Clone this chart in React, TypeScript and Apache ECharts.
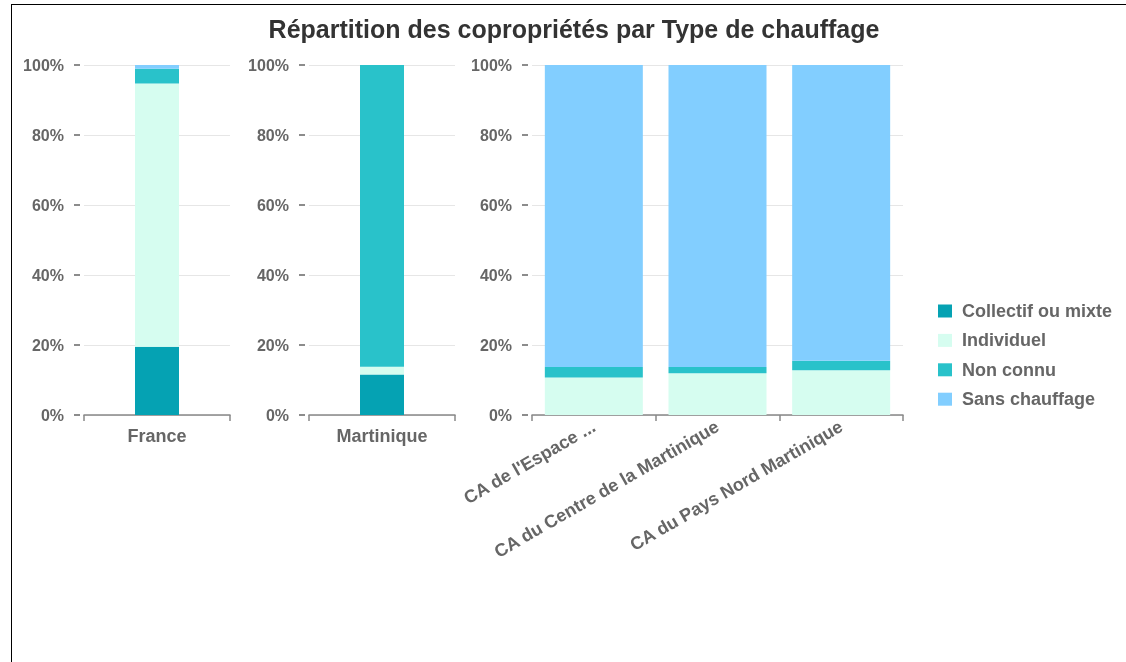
import React, { useEffect, useRef } from "react";
import * as echarts from "echarts";

const titleText = "Répartition des copropriétés par Type de chauffage";
const seriesNames = ["Collectif ou mixte", "Individuel", "Non connu", "Sans chauffage"];
const seriesColors = ["#05A2B3", "#D6FDF0", "#29C2CA", "#82CEFF"];

const categoriesFrance = ["France"];
const categoriesMartinique = ["Martinique"];
const categoriesEpci = ["CA de l'Espace ...", "CA du Centre de la Martinique", "CA du Pays Nord Martinique"];

// values in % for each series (order of seriesNames)
const franceValues = [19.5, 75.2, 4.2, 1.1];
const martiniqueValues = [11.6, 2.2, 86.2, 0];
const collectifEpci = [0, 0, 0];
const individuelEpci = [10.7, 11.9, 12.8];
const nonConnuEpci = [3.0, 1.8, 2.7];
const sansChauffageEpci = [86.3, 86.3, 84.5];

const yTicks = [0, 20, 40, 60, 80, 100];

const FONT = "'Liberation Sans', Arial, sans-serif";
const LABEL_COLOR = "#666666";

export default function App() {
  const ref = useRef<HTMLDivElement>(null);

  useEffect(() => {
    if (!ref.current) return;
    const chart = echarts.init(ref.current, null, { renderer: "svg" });

    const grids = [
      { left: 84, top: 65, width: 146, height: 350 },
      { left: 309, top: 65, width: 146, height: 350 },
      { left: 532, top: 65, width: 371, height: 350 },
    ];
    const cats = [categoriesFrance, categoriesMartinique, categoriesEpci];

    const xAxes = cats.map((c, i) => ({
      type: "category",
      gridIndex: i,
      data: c,
      axisLine: { lineStyle: { color: "#888888", width: 1.5 } },
      axisTick: { show: true, length: 6, lineStyle: { color: "#888888", width: 1.5 } },
      axisLabel: {
        interval: 0,
        color: LABEL_COLOR,
        fontFamily: FONT,
        fontWeight: "bold",
        fontSize: 18,
        rotate: i === 2 ? 30 : 0,
        margin: i === 2 ? 10 : 12,
      },
    }));

    const yAxes = cats.map((_, i) => ({
      type: "value",
      gridIndex: i,
      min: yTicks[0],
      max: yTicks[yTicks.length - 1],
      interval: yTicks[1] - yTicks[0],
      offset: 4,
      axisLine: { show: false },
      axisTick: { show: true, length: 6, lineStyle: { color: "#666666", width: 1.5 } },
      axisLabel: {
        formatter: "{value}%",
        color: LABEL_COLOR,
        fontFamily: FONT,
        fontWeight: "bold",
        fontSize: 16,
        margin: 16,
      },
      splitLine: { show: true, lineStyle: { color: "#E6E6E6", width: 1 } },
    }));

    const series: any[] = [];
    seriesNames.forEach((name, s) => {
      series.push({
        name,
        type: "bar",
        stack: "g0",
        xAxisIndex: 0,
        yAxisIndex: 0,
        barWidth: 44,
        data: [franceValues[s]],
        itemStyle: { color: seriesColors[s] },
      });
      series.push({
        name,
        type: "bar",
        stack: "g1",
        xAxisIndex: 1,
        yAxisIndex: 1,
        barWidth: 44,
        data: [martiniqueValues[s]],
        itemStyle: { color: seriesColors[s] },
      });
    });
    const epci = [collectifEpci, individuelEpci, nonConnuEpci, sansChauffageEpci];
    seriesNames.forEach((name, s) => {
      series.push({
        name,
        type: "bar",
        stack: "g2",
        xAxisIndex: 2,
        yAxisIndex: 2,
        barWidth: 98,
        data: epci[s],
        itemStyle: { color: seriesColors[s] },
      });
    });

    chart.setOption({
      animation: false,
      title: {
        text: titleText,
        left: 569,
        textAlign: "center",
        top: 11,
        textStyle: { fontFamily: FONT, fontWeight: "bold", fontSize: 25, color: "#333333" },
      },
      legend: {
        orient: "vertical",
        left: 938,
        top: 302,
        padding: 0,
        itemWidth: 14,
        itemHeight: 13,
        itemGap: 11.4,
        icon: "rect",
        data: seriesNames,
        textStyle: {
          fontFamily: FONT,
          fontWeight: "bold",
          fontSize: 18,
          color: LABEL_COLOR,
          padding: [0, 0, 0, 5],
        },
      },
      grid: grids,
      xAxis: xAxes,
      yAxis: yAxes,
      series,
    });

    return () => chart.dispose();
  }, []);

  return (
    <>
      <div
        style={{
          position: "fixed",
          left: 11,
          top: 4,
          width: 1115,
          height: 658,
          borderTop: "1.5px solid #000",
          borderLeft: "1.5px solid #000",
          boxSizing: "border-box",
        }}
      />
      <div
        ref={ref}
        style={{ position: "fixed", left: 0, top: 0, width: 1126, height: 662 }}
      />
    </>
  );
}
